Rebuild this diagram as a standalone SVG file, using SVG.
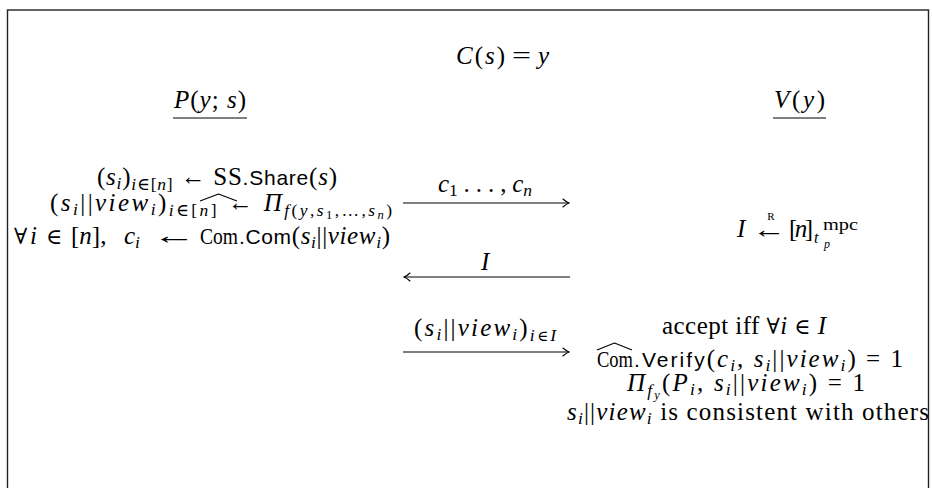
<svg xmlns="http://www.w3.org/2000/svg" width="932" height="488" viewBox="0 0 932 488">
  <style>
    text { font-family: "Liberation Serif", "DejaVu Serif", serif; font-size: 25px; fill: #000; }
    .i { font-style: italic; }
    .sf { font-family: "Liberation Sans", "DejaVu Sans", sans-serif; font-size: 21px; }
    .sub { font-size: 17.5px; }
    .ss { font-size: 12.5px; }
    .sym { font-size: 22px; }
    .rule { stroke: #000; stroke-width: 1.2; fill: none; }
    .hat { stroke: #000; stroke-width: 1.1; fill: none; stroke-linejoin: round; }
    .msg { stroke: #000; stroke-width: 1.2; fill: none; }
  </style>
  <defs>
    <marker id="head" viewBox="-8 -5 9 10" markerWidth="9" markerHeight="10" refX="0" refY="0" orient="auto-start-reverse" markerUnits="userSpaceOnUse">
      <path d="M-6,-4 Q-2.5,-0.8 0,0 Q-2.5,0.8 -6,4" stroke="#000" stroke-width="1.1" fill="none" stroke-linecap="round"/>
    </marker>
  </defs>

  <!-- open frame around the protocol -->
  <rect x="7.5" y="10" width="921" height="500" fill="none" stroke="#222" stroke-width="1.4"/>

  <g id="relation">
    <text x="456" y="64" textLength="49" lengthAdjust="spacing"><tspan class="i">C</tspan>(<tspan class="i">s</tspan>)</text>
    <text x="512" y="64" textLength="19" lengthAdjust="spacingAndGlyphs">=</text>
    <text x="538" y="64" class="i">y</text>
  </g>

  <g id="prover">
    <text x="174" y="108" textLength="72" lengthAdjust="spacing"><tspan class="i">P</tspan>(<tspan class="i">y</tspan>; <tspan class="i">s</tspan>)</text>
    <line class="rule" x1="173" y1="118" x2="247" y2="118"/>
  </g>

  <g id="verifier">
    <text x="774" y="108" textLength="51" lengthAdjust="spacing"><tspan class="i">V</tspan>(<tspan class="i">y</tspan>)</text>
    <line class="rule" x1="773" y1="118" x2="826" y2="118"/>
  </g>

  <g id="prover-commit">
    <text x="97" y="185" textLength="240" lengthAdjust="spacing">(<tspan class="i">s</tspan><tspan class="sub i" dy="4">i</tspan><tspan dy="-4">)</tspan><tspan class="sub" dy="5"><tspan class="i">i</tspan>∈[<tspan class="i">n</tspan>]</tspan><tspan dy="-5"> ← SS</tspan><tspan class="sf">.Share</tspan>(<tspan class="i">s</tspan>)</text>
    <text x="50" y="211" textLength="342" lengthAdjust="spacing">(<tspan class="i">s</tspan><tspan class="sub i" dy="4">i</tspan><tspan dy="-4">||</tspan><tspan class="i">view</tspan><tspan class="sub i" dy="4">i</tspan><tspan dy="-4">)</tspan><tspan class="sub" dy="5"><tspan class="i">i</tspan>∈[<tspan class="i">n</tspan>]</tspan><tspan dy="-5"> ← </tspan><tspan class="i">Π</tspan><tspan class="sub" dy="5"><tspan class="i">f</tspan>(<tspan class="i">y</tspan>,<tspan class="i">s</tspan><tspan class="ss" dy="3">1</tspan><tspan dy="-3">,…,</tspan><tspan class="i">s</tspan><tspan class="ss i" dy="3">n</tspan><tspan dy="-3">)</tspan></tspan></text>
    <text y="244"><tspan x="14" class="sym">∀</tspan><tspan x="30" class="i">i</tspan><tspan x="46" class="sym">∈</tspan><tspan x="71">[<tspan class="i">n</tspan>],</tspan><tspan x="124" class="i">c</tspan><tspan class="sub i" dy="4">i</tspan></text>
    <text x="152" y="244" textLength="44" lengthAdjust="spacingAndGlyphs">←</text>
    <text x="200" y="244" textLength="38" lengthAdjust="spacingAndGlyphs" style="font-size:23px">Com</text>
    <path class="hat" d="M200,201 L218.5,194 L237,201"/>
    <text x="239" y="244" textLength="151" lengthAdjust="spacing"><tspan class="sf">.Com</tspan>(<tspan class="i">s</tspan><tspan class="sub i" dy="4">i</tspan><tspan dy="-4">||</tspan><tspan class="i">view</tspan><tspan class="sub i" dy="4">i</tspan><tspan dy="-4">)</tspan></text>
  </g>

  <g id="verifier-challenge">
    <text x="737" y="237" class="i">I</text>
    <text x="752" y="238" textLength="34" lengthAdjust="spacingAndGlyphs">←</text>
    <text x="771" y="220" style="font-size:11px" text-anchor="middle">R</text>
    <text x="789" y="237" textLength="24" lengthAdjust="spacing">[<tspan class="i">n</tspan>]</text>
    <text x="814" y="243" class="i" style="font-size:16px">t</text>
    <text x="823" y="230" style="font-size:16px" textLength="35" lengthAdjust="spacingAndGlyphs">mpc</text>
    <text x="824" y="248" class="i" style="font-size:12px">p</text>
  </g>

  <g id="verifier-check">
    <text x="662" y="334" textLength="164" lengthAdjust="spacing">accept iff <tspan class="sym">∀</tspan><tspan class="i">i</tspan> <tspan class="sym">∈</tspan> <tspan class="i">I</tspan></text>
    <text x="597" y="367" textLength="36" lengthAdjust="spacingAndGlyphs" style="font-size:23px">Com</text>
    <path class="hat" d="M597,350 L614.5,343 L632,350"/>
    <text x="634" y="367" textLength="269" lengthAdjust="spacing"><tspan class="sf">.Verify</tspan>(<tspan class="i">c</tspan><tspan class="sub i" dy="4">i</tspan><tspan dy="-4">, </tspan><tspan class="i">s</tspan><tspan class="sub i" dy="4">i</tspan><tspan dy="-4">||</tspan><tspan class="i">view</tspan><tspan class="sub i" dy="4">i</tspan><tspan dy="-4">) = 1</tspan></text>
    <text x="627" y="391" textLength="238" lengthAdjust="spacing"><tspan class="i">Π</tspan><tspan class="sub i" dy="5">f</tspan><tspan class="ss i" dy="3">y</tspan><tspan dy="-8">(</tspan><tspan class="i">P</tspan><tspan class="sub i" dy="4">i</tspan><tspan dy="-4">, </tspan><tspan class="i">s</tspan><tspan class="sub i" dy="4">i</tspan><tspan dy="-4">||</tspan><tspan class="i">view</tspan><tspan class="sub i" dy="4">i</tspan><tspan dy="-4">) = 1</tspan></text>
    <text x="567" y="420" textLength="362" lengthAdjust="spacing"><tspan class="i">s</tspan><tspan class="sub i" dy="4">i</tspan><tspan dy="-4">||</tspan><tspan class="i">view</tspan><tspan class="sub i" dy="4">i</tspan><tspan dy="-4"> is consistent with others</tspan></text>
  </g>

  <g id="connectors">
    <line class="msg" x1="403" y1="203" x2="569" y2="203" marker-end="url(#head)"/>
    <text x="438" y="192" textLength="94" lengthAdjust="spacing"><tspan class="i">c</tspan><tspan class="sub" dy="4">1</tspan><tspan dy="-4"> . . . , </tspan><tspan class="i">c</tspan><tspan class="sub i" dy="4">n</tspan></text>

    <line class="msg" x1="404" y1="277" x2="570" y2="277" marker-start="url(#head)"/>
    <text x="481" y="270" class="i">I</text>

    <line class="msg" x1="403" y1="352" x2="569" y2="352" marker-end="url(#head)"/>
    <text x="414" y="336" textLength="142" lengthAdjust="spacing">(<tspan class="i">s</tspan><tspan class="sub i" dy="4">i</tspan><tspan dy="-4">||</tspan><tspan class="i">view</tspan><tspan class="sub i" dy="4">i</tspan><tspan dy="-4">)</tspan><tspan class="sub" dy="5"><tspan class="i">i</tspan><tspan class="sym" style="font-size:15px">∈</tspan><tspan class="i">I</tspan></tspan></text>
  </g>
</svg>
